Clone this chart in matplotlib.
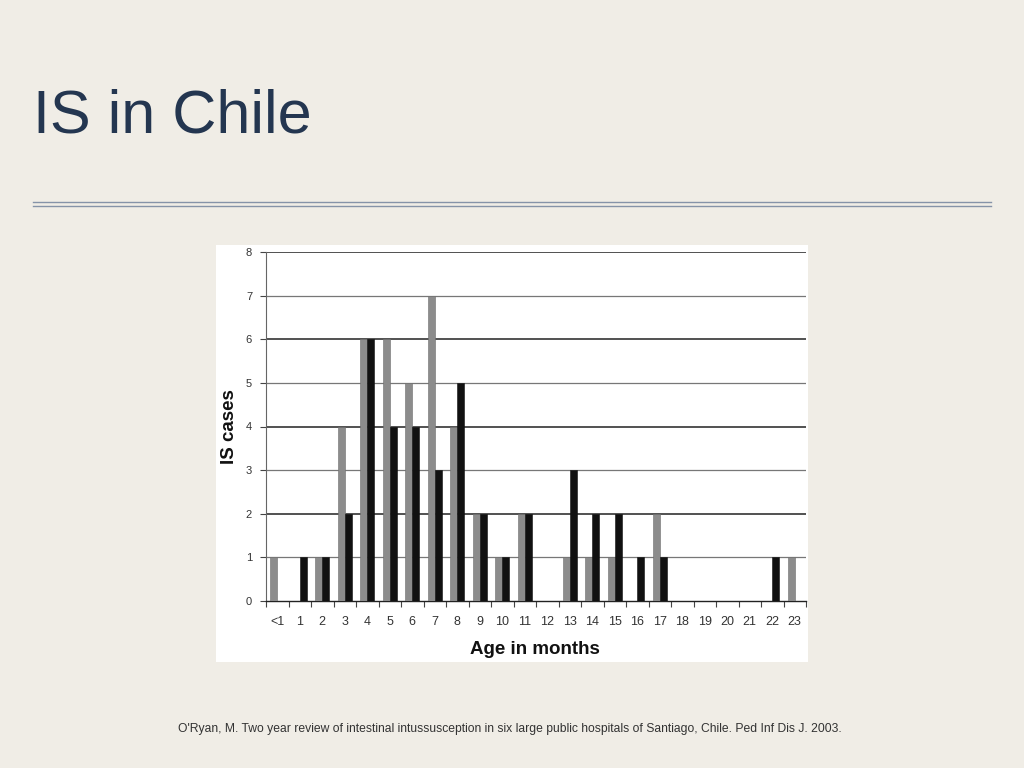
import matplotlib
matplotlib.use("Agg")
import matplotlib.pyplot as plt
from matplotlib.patches import Rectangle
from matplotlib.lines import Line2D
import numpy as np

categories = ["<1", "1", "2", "3", "4", "5", "6", "7", "8", "9", "10", "11",
              "12", "13", "14", "15", "16", "17", "18", "19", "20", "21", "22", "23"]
gray_series = [1, 0, 1, 4, 6, 6, 5, 7, 4, 2, 1, 2, 0, 1, 1, 1, 0, 2, 0, 0, 0, 0, 0, 1]
black_series = [0, 1, 1, 2, 6, 4, 4, 3, 5, 2, 1, 2, 0, 3, 2, 2, 1, 1, 0, 0, 0, 0, 1, 0]
y_ticks = [0, 1, 2, 3, 4, 5, 6, 7, 8]

title = "IS in Chile"
citation = ("O'Ryan, M. Two year review of intestinal intussusception in six large public "
            "hospitals of Santiago, Chile. Ped Inf Dis J. 2003.")

plt.rcParams['font.family'] = ['Liberation Sans', 'DejaVu Sans']

W, H = 1024, 768
fig = plt.figure(figsize=(W / 100, H / 100), dpi=100)
fig.patch.set_facecolor('#f0ede6')

# title
fig.text(33 / W, 1 - 117 / H, title, fontsize=44, color='#243650',
         ha='left', va='center')

# double rule
for yy in (202, 206):
    fig.add_artist(Line2D([33 / W, 991 / W], [1 - yy / H, 1 - yy / H],
                          color='#8593a8', lw=1.0, transform=fig.transFigure))

# white panel of the scanned figure
fig.add_artist(Rectangle((216 / W, 1 - 662 / H), (808 - 216) / W, (662 - 245) / H,
                         transform=fig.transFigure, facecolor='white',
                         edgecolor='none', zorder=0))

ax = fig.add_axes([266 / W, 1 - 601 / H, (806 - 266) / W, (601 - 252) / H])
ax.set_facecolor('white')

x = np.arange(len(categories))
bw = 0.31
ax.bar(x - bw / 2, gray_series, width=bw, color='#8c8c8c', edgecolor='#6e6e6e',
       linewidth=0.4, zorder=3)
ax.bar(x + bw / 2, black_series, width=bw, color='#111111', edgecolor='#111111',
       linewidth=0.4, zorder=3)

ax.set_xlim(-0.5, len(categories) - 0.5)
ax.set_ylim(0, 8)

for v in y_ticks[1:]:
    ax.axhline(v, color='#222222' if v % 2 == 0 else '#777777',
               lw=1.1 if v % 2 == 0 else 0.9, zorder=1)

ax.set_yticks(y_ticks)
ax.set_yticklabels([str(v) for v in y_ticks], fontsize=8, color='#333333')
ax.tick_params(axis='y', length=4, width=0.8, color='#444444', pad=6)

ax.set_xticks(x)
ax.set_xticklabels(categories, fontsize=9, color='#333333')
ax.tick_params(axis='x', length=0, pad=11)
ax.set_xticks(np.arange(-0.5, len(categories), 1), minor=True)
ax.tick_params(axis='x', which='minor', length=4, width=0.8, color='#444444',
               direction='out')

for s in ('top', 'right'):
    ax.spines[s].set_visible(False)
ax.spines['left'].set_color('#666666')
ax.spines['left'].set_linewidth(0.8)
ax.spines['bottom'].set_color('#222222')
ax.spines['bottom'].set_linewidth(1.0)

fig.text(229 / W, 1 - 427 / H, "IS cases", rotation=90, fontsize=13.5,
         fontweight='bold', color='#111111', ha='center', va='center')
fig.text(535 / W, 1 - 649 / H, "Age in months", fontsize=13.5,
         fontweight='bold', color='#111111', ha='center', va='center')

fig.text(510 / W, 1 - 729 / H, citation, fontsize=8.7, color='#333333',
         ha='center', va='center')

fig.savefig("out.png", dpi=100, facecolor=fig.get_facecolor())
